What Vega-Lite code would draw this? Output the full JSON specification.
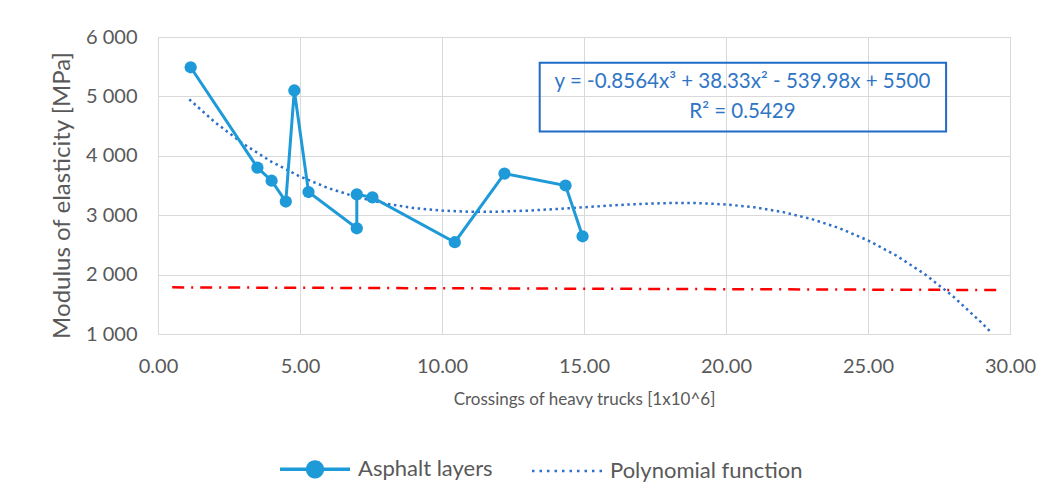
{
  "$schema": "https://vega.github.io/schema/vega-lite/v6.json",
  "width": 852,
  "height": 297,
  "autosize": {"type": "none"},
  "padding": {"left": 158, "top": 37, "right": 51, "bottom": 168},
  "background": "white",
  "config": {
    "font": "Lato",
    "view": {"stroke": "#d9d9d9"},
    "axis": {"gridColor": "#d9d9d9", "domainColor": "#d9d9d9", "ticks": false, "labelColor": "#595959", "titleColor": "#595959", "titleFontWeight": "normal"}
  },
  "datasets": {
    "asphalt": [
      {"i": 1, "x": 1.15, "y": 5490},
      {"i": 2, "x": 3.5, "y": 3800},
      {"i": 3, "x": 4.0, "y": 3580},
      {"i": 4, "x": 4.5, "y": 3230},
      {"i": 5, "x": 4.8, "y": 5100},
      {"i": 6, "x": 5.3, "y": 3390},
      {"i": 7, "x": 7.0, "y": 2780},
      {"i": 8, "x": 7.0, "y": 3350},
      {"i": 9, "x": 7.55, "y": 3300},
      {"i": 10, "x": 10.45, "y": 2545},
      {"i": 11, "x": 12.2, "y": 3700},
      {"i": 12, "x": 14.35, "y": 3500},
      {"i": 13, "x": 14.95, "y": 2645}
    ],
    "poly": [
      {"x": 1.1, "y": 4951}, {"x": 2, "y": 4567}, {"x": 3, "y": 4202}, {"x": 4, "y": 3899},
      {"x": 5, "y": 3651}, {"x": 6, "y": 3455}, {"x": 7, "y": 3305}, {"x": 8, "y": 3195},
      {"x": 9, "y": 3121}, {"x": 10, "y": 3077}, {"x": 11, "y": 3058}, {"x": 12, "y": 3060},
      {"x": 13, "y": 3077}, {"x": 14, "y": 3103}, {"x": 15, "y": 3134}, {"x": 16, "y": 3165},
      {"x": 17, "y": 3190}, {"x": 18, "y": 3205}, {"x": 19, "y": 3204}, {"x": 20, "y": 3181},
      {"x": 21, "y": 3133}, {"x": 22, "y": 3053}, {"x": 23, "y": 2937}, {"x": 24, "y": 2780},
      {"x": 25, "y": 2576}, {"x": 26, "y": 2320}, {"x": 27, "y": 2007}, {"x": 28, "y": 1632},
      {"x": 29, "y": 1189}, {"x": 29.3, "y": 1043}
    ],
    "limit": [
      {"x": 0.5, "y": 1785},
      {"x": 29.6, "y": 1740}
    ]
  },
  "encoding": {
    "x": {
      "type": "quantitative",
      "scale": {"domain": [0, 30], "nice": false, "zero": false},
      "axis": {
        "values": [0, 5, 10, 15, 20, 25, 30],
        "format": ".2f",
        "labelFlush": false,
        "labelFontSize": 20,
        "labelPadding": 22,
        "title": "Crossings of heavy trucks [1x10^6]",
        "titleFontSize": 17,
        "titlePadding": 15
      }
    },
    "y": {
      "type": "quantitative",
      "scale": {"domain": [1000, 6000], "nice": false, "zero": false},
      "axis": {
        "values": [1000, 2000, 3000, 4000, 5000, 6000],
        "labelExpr": "replace(format(datum.value, ','), ',', ' ')",
        "labelFontSize": 20,
        "labelPadding": 21,
        "title": "Modulus of elasticity [MPa]",
        "titleFontSize": 24,
        "titlePadding": 11,
        "titleY": 158
      }
    }
  },
  "layer": [
    {
      "data": {"name": "limit"},
      "mark": {"type": "line", "color": "#ff0000", "strokeWidth": 2.5, "strokeDash": [12, 7, 2, 7]},
      "encoding": {"x": {"field": "x"}, "y": {"field": "y"}}
    },
    {
      "data": {"name": "poly"},
      "transform": [{"calculate": "'Polynomial function'", "as": "series"}],
      "mark": {"type": "line", "strokeWidth": 2.5, "strokeDash": [2.5, 3.5], "clip": true},
      "encoding": {
        "x": {"field": "x"},
        "y": {"field": "y"},
        "color": {
          "field": "series",
          "type": "nominal",
          "scale": {"domain": ["Asphalt layers", "Polynomial function"], "range": ["#1f9ad8", "#2e6fc8"]},
          "legend": {
            "title": null,
            "orient": "none",
            "legendX": 146,
            "legendY": 421,
            "padding": 0,
            "direction": "horizontal",
            "labelFontSize": 22,
            "labelColor": "#595959",
            "labelLimit": 400,
            "symbolSize": 4900,
            "symbolStrokeWidth": 3,
            "labelOffset": 32,
            "columnPadding": 34,
            "encode": {
              "symbols": {
                "update": {
                  "shape": {"signal": "datum.value === 'Asphalt layers' ? 'M-1,0H1M0.21,0A0.21,0.21,0,1,1,-0.21,0A0.21,0.21,0,1,1,0.21,0' : 'M-1,0H1'"},
                  "fill": {"signal": "datum.value === 'Asphalt layers' ? '#1f9ad8' : 'transparent'"},
                  "strokeDash": {"signal": "datum.value === 'Asphalt layers' ? [1, 0] : [2.5, 5]"},
                  "strokeWidth": {"signal": "datum.value === 'Asphalt layers' ? 3.5 : 2.5"}
                }
              }
            }
          }
        }
      }
    },
    {
      "data": {"name": "asphalt"},
      "transform": [{"calculate": "'Asphalt layers'", "as": "series"}],
      "mark": {"type": "line", "strokeWidth": 3},
      "encoding": {
        "x": {"field": "x"},
        "y": {"field": "y"},
        "order": {"field": "i", "type": "quantitative"},
        "color": {"field": "series", "type": "nominal"}
      }
    },
    {
      "data": {"name": "asphalt"},
      "mark": {"type": "point", "filled": true, "opacity": 1, "size": 150, "color": "#1f9ad8"},
      "encoding": {"x": {"field": "x"}, "y": {"field": "y"}}
    },
    {
      "data": {"values": [{}]},
      "mark": {"type": "rect", "fill": null, "fillOpacity": 0, "stroke": "#1f6bc6", "strokeWidth": 2},
      "encoding": {
        "x": {"datum": 13.44},
        "x2": {"datum": 27.75},
        "y": {"datum": 5568},
        "y2": {"datum": 4410}
      }
    },
    {
      "data": {"values": [{}]},
      "mark": {"type": "text", "fontSize": 20.5, "color": "#2e75c6", "align": "center", "baseline": "middle"},
      "encoding": {
        "x": {"datum": 20.58},
        "y": {"datum": 5236},
        "text": {"value": "y = -0.8564x³ + 38.33x² - 539.98x + 5500"}
      }
    },
    {
      "data": {"values": [{}]},
      "mark": {"type": "text", "fontSize": 20.5, "color": "#2e75c6", "align": "center", "baseline": "middle"},
      "encoding": {
        "x": {"datum": 20.58},
        "y": {"datum": 4730},
        "text": {"value": "R² = 0.5429"}
      }
    }
  ]
}
